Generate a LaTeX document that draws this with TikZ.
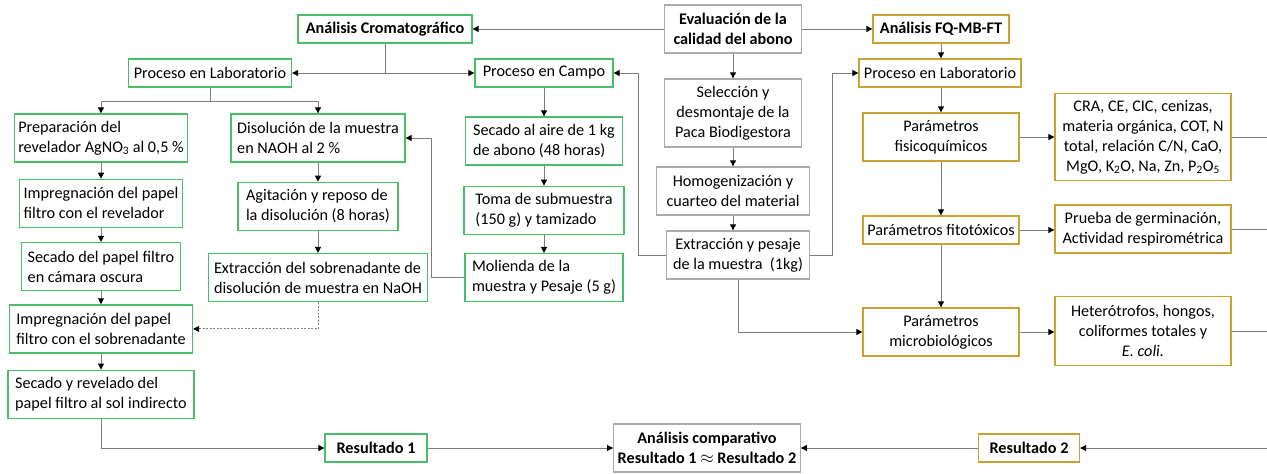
\documentclass[tikz,border=0pt]{standalone}
\usepackage{fontspec}
\setmainfont{Carlito}
\usetikzlibrary{positioning,arrows.meta}

\definecolor{verdeBox}{RGB}{72,190,102}
\definecolor{oroBox}{RGB}{201,162,52}
\definecolor{grisBox}{RGB}{170,170,170}
\definecolor{grisLinea}{RGB}{125,125,125}

\tikzset{
  caja/.style={draw, line width=1.3pt, fill=white, inner xsep=4pt, inner ysep=2pt,
    minimum height=28pt, font=\fontsize{16.2}{20}\selectfont},
  cajaV/.style={caja, draw=verdeBox, align=left},
  cajaO/.style={caja, draw=oroBox, align=center},
  cajaG/.style={caja, draw=grisBox, align=center},
  negrita/.style={font=\fontsize{16.2}{20}\selectfont\bfseries},
  h2/.style={minimum height=48pt},
  h3/.style={minimum height=68pt},
  flecha/.style={draw=grisLinea, line width=0.9pt,
    -{Triangle[length=6pt,width=6pt,color=black]}},
  linea/.style={draw=grisLinea, line width=0.9pt},
}

\begin{document}
\begin{tikzpicture}[x=1pt,y=-1pt]
  \useasboundingbox (0,0) rectangle (1267,474);

  %% cabecera
  \node[cajaG, negrita, h2, minimum width=137pt] (eval) at (733,29) {Evaluación de la\\calidad del abono};
  \node[cajaV, negrita, minimum width=174pt] (cromato) at (385,29) {Análisis Cromatográfico};
  \node[cajaO, negrita, minimum width=136pt] (fqmb) at (941,29) {Análisis FQ-MB-FT};

  %% procesos
  \node[cajaV, minimum width=163pt] (labV) at (210,73) {Proceso en Laboratorio};
  \node[cajaV, minimum width=138pt] (campo) at (544,73) {Proceso en Campo};
  \node[cajaO, minimum width=162pt] (labO) at (940,73) {Proceso en Laboratorio};

  %% columna central (muestreo)
  \node[cajaG, h3, minimum width=137pt] (selec) at (733,113) {Selección y\\desmontaje de la\\Paca Biodigestora};
  \node[cajaG, h2, minimum width=153pt] (homog) at (733,191) {Homogenización y\\cuarteo del material};
  \node[cajaG, h2, minimum width=143pt] (extr) at (738,255) {Extracción y pesaje\\de la muestra~~(1kg)};

  %% laboratorio cromatografico, columna izquierda
  \node[cajaV, h2, minimum width=172pt] (prep) at (101,138) {Preparación del\\revelador AgNO\textsubscript{3} al 0,5 \%};
  \node[cajaV, h2, minimum width=159pt, below=16pt of prep] (impr1) {Impregnación del papel\\filtro con el revelador};
  \node[cajaV, h2, minimum width=159pt, below=14pt of impr1] (secado1) {Secado del papel filtro\\en cámara oscura};
  \node[cajaV, h2, minimum width=183pt, below=13pt of secado1] (impr2) {Impregnación del papel\\filtro con el sobrenadante};
  \node[cajaV, h2, minimum width=186pt, below=16pt of impr2] (secado2) {Secado y revelado del\\papel filtro al sol indirecto};

  %% laboratorio cromatografico, segunda columna
  \node[cajaV, h2, minimum width=174pt] (disol) at (318,138) {Disolución de la muestra\\en NAOH al 2 \%};
  \node[cajaV, h2, minimum width=160pt, below=19pt of disol] (agit) {Agitación y reposo de\\la disolución (8 horas)};
  \node[cajaV, h2, minimum width=219pt, below=22pt of agit] (extrSob) {Extracción del sobrenadante de\\disolución de muestra en NaOH};

  %% campo
  \node[cajaV, h2, minimum width=157pt] (secAire) at (544,141) {Secado al aire de 1 kg\\de abono (48 horas)};
  \node[cajaV, h2, minimum width=160pt, below=20pt of secAire] (toma) {Toma de submuestra\\(150 g) y tamizado};
  \node[cajaV, h2, minimum width=158pt, below=18pt of toma] (molienda) {Molienda de la\\muestra y Pesaje (5 g)};

  %% analisis FQ-MB-FT
  \node[cajaO, h2, minimum width=156pt] (fisico) at (941,137) {Parámetros\\fisicoquímicos};
  \node[cajaO, minimum width=156pt] (fito) at (941,230) {Parámetros fitotóxicos};
  \node[cajaO, h2, minimum width=156pt] (micro) at (941,332) {Parámetros\\microbiológicos};
  \node[cajaO, minimum height=87pt, minimum width=176pt] (cra) at (1143,137) {CRA, CE, CIC, cenizas,\\materia orgánica, COT, N\\total, relación C/N, CaO,\\MgO, K\textsubscript{2}O, Na, Zn, P\textsubscript{2}O\textsubscript{5}};
  \node[cajaO, h2, minimum width=176pt] (prueba) at (1143,229) {Prueba de germinación,\\Actividad respirométrica};
  \node[cajaO, minimum height=69pt, minimum width=176pt] (hetero) at (1143,331) {Heterótrofos, hongos,\\coliformes totales y\\\textit{E. coli.}};

  %% resultados
  \node[cajaV, negrita, minimum width=102pt] (res1) at (376,448) {Resultado 1};
  \node[cajaG, negrita, h2, minimum width=186pt] (comp) at (707,448) {Análisis comparativo\\Resultado 1 $\approx$ Resultado 2};
  \node[cajaO, negrita, minimum width=101pt] (res2) at (1029,448) {Resultado 2};
  \coordinate (bordeDer) at (1267,448);

  %% conexiones
  \draw[flecha] (eval) -- (cromato);
  \draw[flecha] (eval) -- (fqmb);
  \draw[flecha] (cromato.south) |- (labV.east);
  \draw[flecha] (cromato.south |- campo.west) -- (campo.west);
  \draw[flecha] (fqmb.south) -- (fqmb.south |- labO.north);
  \draw[flecha] (eval) -- (selec);
  \draw[flecha] (selec) -- (homog);
  \draw[flecha] (homog.south) -- (homog.south |- extr.north);
  \draw[flecha] (extr.west) -- ++(-27,0) |- (campo.east);
  \draw[flecha] (extr.east) -- ++(22,0) |- (labO.west);
  \draw[flecha] (extr.south) |- (micro.west);

  \draw[flecha] (labV.south) -- ++(0,14) -| (prep.north);
  \draw[flecha] (labV.south) -- ++(0,14) -| (disol.north);
  \draw[flecha] (prep) -- (impr1);
  \draw[flecha] (impr1) -- (secado1);
  \draw[flecha] (secado1) -- (impr2);
  \draw[flecha] (impr2) -- (secado2);
  \draw[flecha] (disol) -- (agit);
  \draw[flecha] (agit) -- (extrSob);
  \draw[flecha, dash pattern=on 2pt off 1.5pt] (extrSob.south) |- (impr2.east);

  \draw[flecha] (campo) -- (secAire);
  \draw[flecha] (secAire) -- (toma);
  \draw[flecha] (toma) -- (molienda);
  \draw[flecha] (molienda.west) -- ++(-33,0) |- (disol.east);

  \draw[flecha] (labO.south -| fisico.north) -- (fisico.north);
  \draw[flecha] (fisico) -- (fito);
  \draw[flecha] (fito) -- (micro);
  \draw[flecha] (fisico) -- (cra);
  \draw[flecha] (fito.east) -- (fito.east -| prueba.west);
  \draw[flecha] (micro.east) -- (micro.east -| hetero.west);
  \draw[linea] (cra.east) -- (cra.east -| bordeDer);
  \draw[linea] (prueba.east) -- (prueba.east -| bordeDer);
  \draw[linea] (hetero.east) -- (hetero.east -| bordeDer);

  \draw[flecha] (secado2.south) |- (res1.west);
  \draw[flecha] (res1) -- (comp);
  \draw[flecha] (bordeDer) -- (res2);
  \draw[flecha] (res2) -- (comp);
\end{tikzpicture}
\end{document}
